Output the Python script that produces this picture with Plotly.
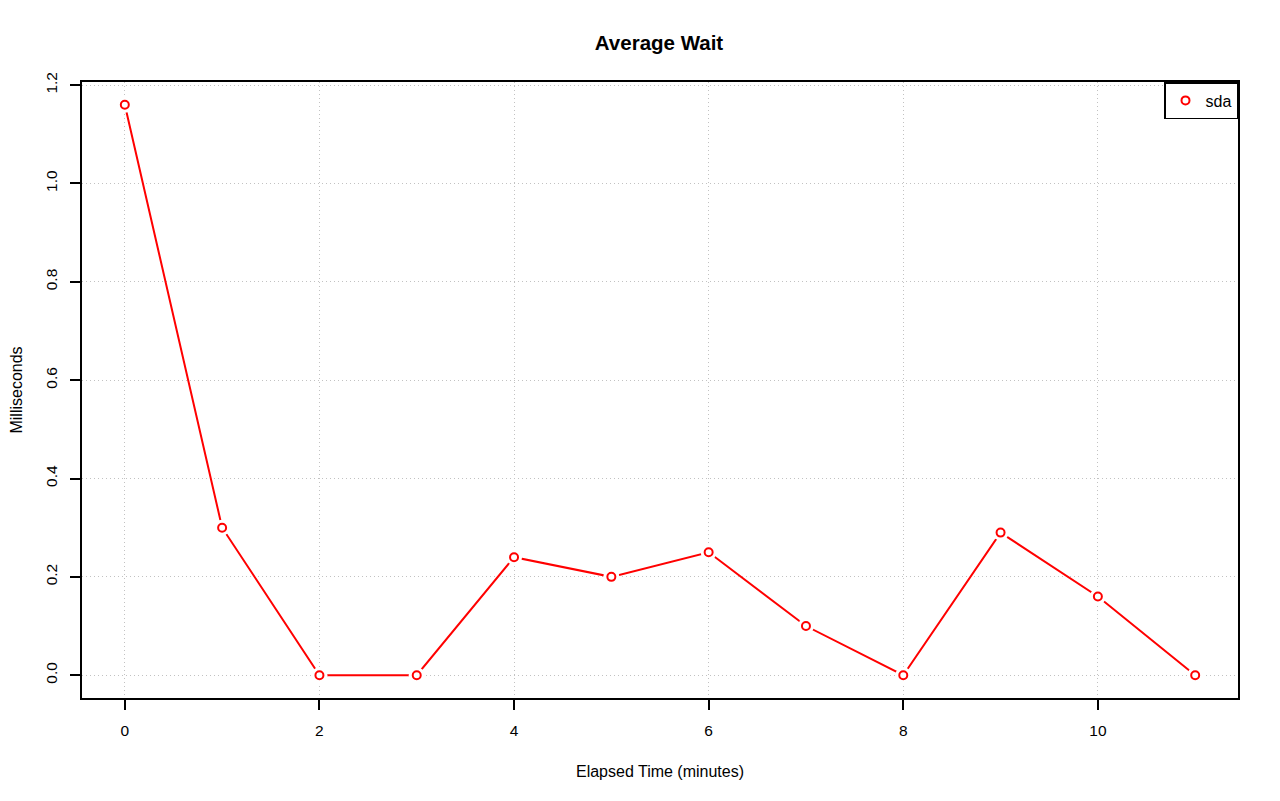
import plotly.graph_objects as go

minutes = [0, 1, 2, 3, 4, 5, 6, 7, 8, 9, 10, 11]
wait_ms = [1.16, 0.30, 0.0, 0.0, 0.24, 0.20, 0.25, 0.10, 0.0, 0.29, 0.16, 0.0]
series_name = "sda"
x_ticks = [0, 2, 4, 6, 8, 10]
y_ticks = [0.0, 0.2, 0.4, 0.6, 0.8, 1.0, 1.2]
y_tick_labels = ["0.0", "0.2", "0.4", "0.6", "0.8", "1.0", "1.2"]

RED = "#ff0000"
FONT = "Liberation Sans, Arial, Helvetica, sans-serif"
FS = 16

# page body has an 8px margin, so the figure is offset by 8px
W, H = 1272, 793

fig = go.Figure()
fig.add_trace(go.Scatter(x=minutes, y=wait_ms, mode="lines",
                         line=dict(color=RED, width=2), showlegend=False,
                         hoverinfo="skip"))
fig.add_trace(go.Scatter(x=minutes, y=wait_ms, mode="markers",
                         marker=dict(symbol="circle", size=16, color="white",
                                     line=dict(width=0)),
                         showlegend=False, hoverinfo="skip"))
fig.add_trace(go.Scatter(x=minutes, y=wait_ms, mode="markers", name=series_name,
                         marker=dict(symbol="circle-open", size=8, color=RED,
                                     line=dict(width=2, color=RED))))

axis_common = dict(showline=True, linecolor="black", linewidth=2, mirror=True,
                   ticks="outside", ticklen=10, tickwidth=1.5, tickcolor="black",
                   showgrid=True, gridcolor="#c2c2c2", griddash="1.2px,2.8px", gridwidth=1.2,
                   zeroline=False, automargin=False, ticklabelstandoff=7,
                   tickfont=dict(family=FONT, size=FS - 0.5, color="black"))

fig.update_layout(
    width=W, height=H,
    margin=dict(l=74, r=42, t=74, b=103),
    paper_bgcolor="white", plot_bgcolor="white",
    font=dict(family=FONT, size=FS, color="black"),
    title=dict(text="<b>Average Wait</b>", x=(659 - 8) / W, xanchor="center",
               y=1 - (43 - 8) / H, yanchor="middle",
               font=dict(family=FONT, size=20.5, color="black")),
    xaxis=dict(range=[-0.44, 11.44], tickvals=x_ticks, ticktext=[str(v) for v in x_ticks],
               title=dict(text="Elapsed Time (minutes)", standoff=28,
                          font=dict(family=FONT, size=FS)),
               **axis_common),
    yaxis=dict(range=[-0.0464, 1.2064], tickvals=y_ticks, ticktext=y_tick_labels,
               tickangle=-90,
               title=dict(text="Milliseconds", standoff=24,
                          font=dict(family=FONT, size=FS)),
               **axis_common),
    legend=dict(x=1, y=1, xanchor="right", yanchor="top", bgcolor="white",
                bordercolor="black", borderwidth=1.5,
                font=dict(family=FONT, size=FS, color="black"),
                itemwidth=30, tracegroupgap=0),
    showlegend=True,
)

fig.write_html("out.html")
